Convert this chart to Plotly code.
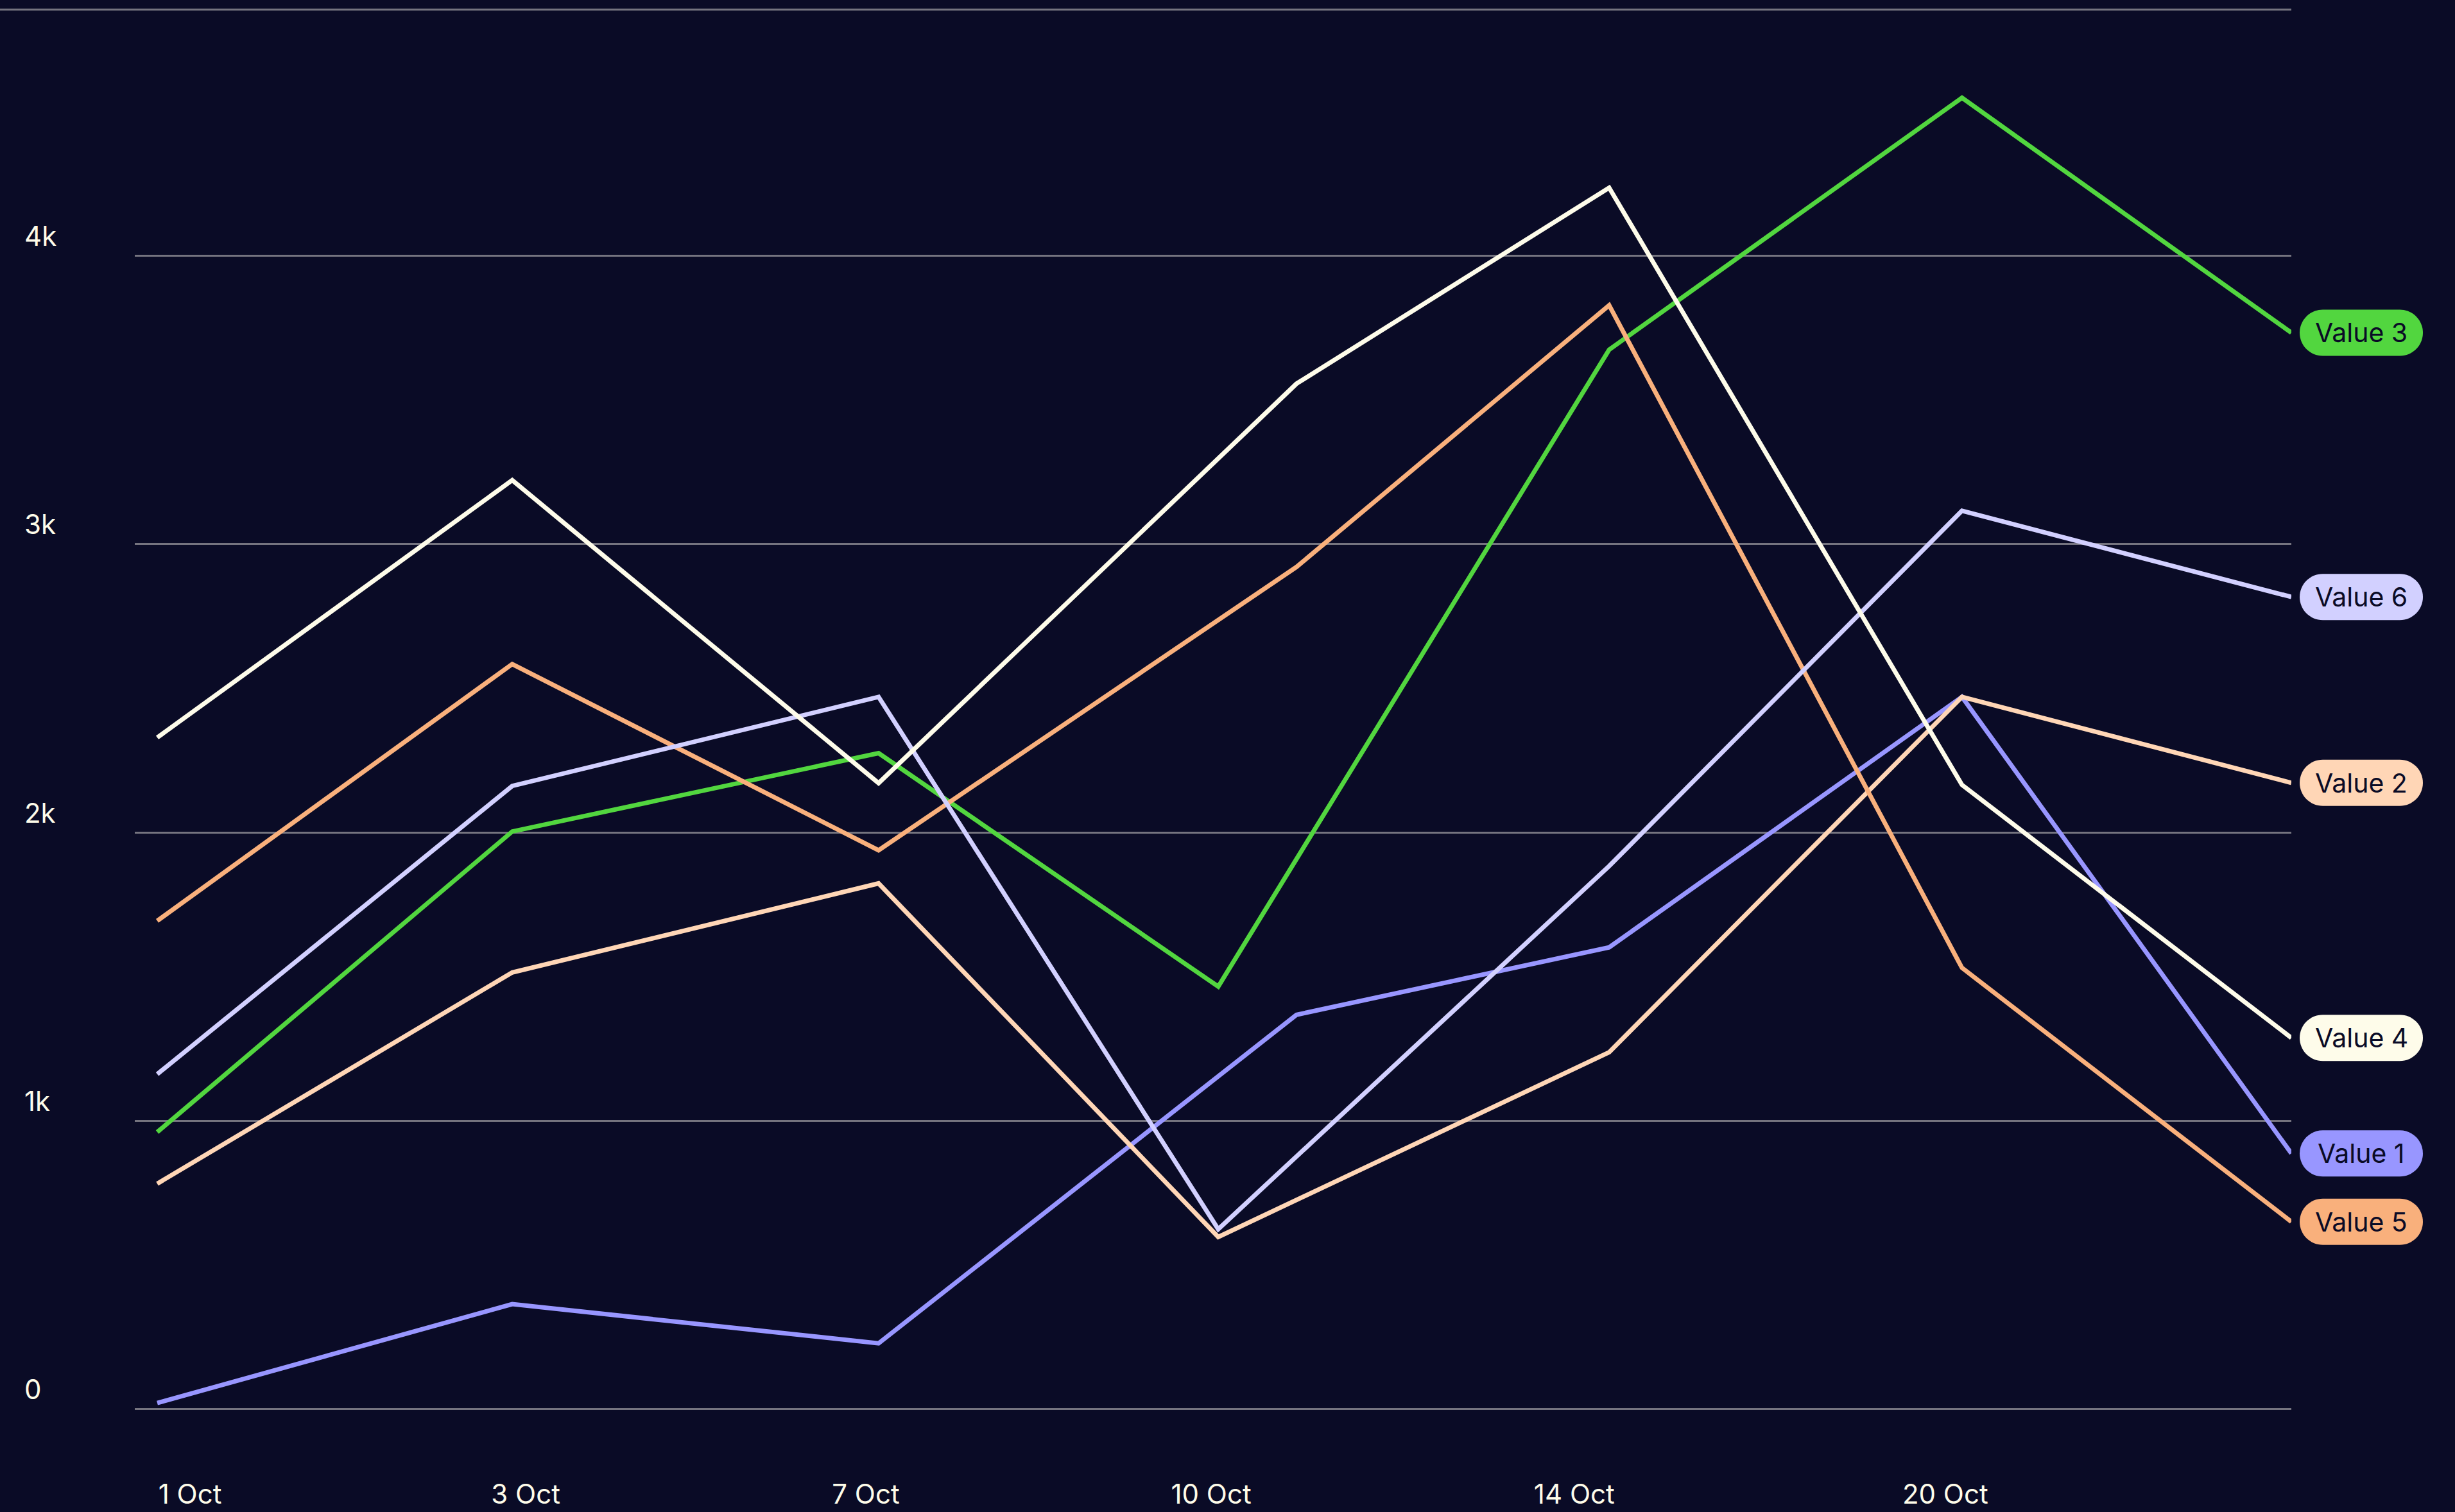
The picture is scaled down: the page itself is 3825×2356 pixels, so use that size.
import plotly.graph_objects as go

# ---------------- data ----------------
tick_labels = ["1 Oct", "3 Oct", "7 Oct", "10 Oct", "14 Oct", "20 Oct"]
tick_pos = [0.092, 1.036, 1.992, 2.963, 3.984, 5.027]

x_common = [0, 0.998, 2.028, 2.983, 4.082, 5.074, 6.0]
x_late = [0, 0.998, 2.028, 3.203, 4.082, 5.074, 6.0]

value_1 = [20, 363, 227, 1367, 1601, 2470, 886]
value_2 = [781, 1514, 1823, 596, 1237, 2470, 2172]
value_3 = [960, 2003, 2275, 1465, 3675, 4549, 3734]
value_4 = [2329, 3222, 2171, 3557, 4237, 2165, 1287]
value_5 = [1693, 2584, 1938, 2921, 3829, 1530, 649]
value_6 = [1161, 2161, 2470, 623, 1883, 3116, 2817]

y_ticks = [0, 1000, 2000, 3000, 4000]
y_tick_text = ["0", "1k", "2k", "3k", "4k"]

# ---------------- style ----------------
BG = "#0A0B26"
TXT = "#FEFCEA"
GRID = "#75747F"
FONT = "Inter"

series = [
    ("Value 1", x_late, value_1, "#9896FF"),
    ("Value 2", x_common, value_2, "#FFD6B6"),
    ("Value 3", x_common, value_3, "#52D63F"),
    ("Value 5", x_late, value_5, "#F9B07C"),
    ("Value 6", x_common, value_6, "#D2D0FF"),
    ("Value 4", x_late, value_4, "#FEFCEA"),
]

W, H = 3825, 2356
ML, MR, MT, MB = 210, 255, 15, 116
PW = W - ML - MR

fig = go.Figure()
for name, xs, ys, col in series:
    fig.add_trace(go.Scatter(x=xs, y=ys, mode="lines", name=name,
                             line=dict(color=col, width=7), showlegend=False,
                             hoverinfo="skip"))

shapes = []
annotations = []

# top border line
shapes.append(dict(type="line", xref="paper", yref="paper",
                   x0=-ML / PW, x1=1, y0=1, y1=1,
                   line=dict(color=GRID, width=3), layer="below"))

# end-of-line pills
k = 0.5523
r = 36
left = 13
width = 192
cl = left + r
cr = left + width - r
right = left + width
pill_path = (f"M {cl},{-r} L {cr},{-r} "
             f"C {cr + k * r},{-r} {right},{-k * r} {right},0 "
             f"C {right},{k * r} {cr + k * r},{r} {cr},{r} "
             f"L {cl},{r} "
             f"C {cl - k * r},{r} {left},{k * r} {left},0 "
             f"C {left},{-k * r} {cl - k * r},{-r} {cl},{-r} Z")

for name, xs, ys, col in series:
    shapes.append(dict(type="path", xref="paper", yref="y",
                       xsizemode="pixel", ysizemode="pixel",
                       xanchor=1, yanchor=ys[-1], path=pill_path,
                       fillcolor=col, line=dict(width=0), layer="above"))
    annotations.append(dict(xref="paper", yref="y", x=1, y=ys[-1],
                            xanchor="center", yanchor="middle",
                            xshift=left + width / 2, yshift=0,
                            text=name, showarrow=False,
                            font=dict(family=FONT, size=41, color=BG)))

# y tick labels (left aligned, sitting above grid lines)
for v, t in zip(y_ticks, y_tick_text):
    annotations.append(dict(xref="paper", yref="y", x=-(ML - 36) / PW, y=v,
                            xanchor="left", yanchor="middle", yshift=31,
                            text=t, showarrow=False,
                            font=dict(family=FONT, size=42, color=TXT)))

fig.update_layout(
    width=W, height=H,
    margin=dict(l=ML, r=MR, t=MT, b=MB, pad=0, autoexpand=False),
    paper_bgcolor=BG, plot_bgcolor=BG,
    font=dict(family=FONT, size=42, color=TXT),
    shapes=shapes, annotations=annotations,
    xaxis=dict(range=[-0.0632, 6.0], showgrid=False, zeroline=False,
               showline=False, tickmode="array", tickvals=tick_pos,
               ticktext=tick_labels, ticks="", ticklabelstandoff=60,
               automargin=False,
               tickfont=dict(family=FONT, size=42, color=TXT)),
    yaxis=dict(range=[-100, 4855], showgrid=True, gridcolor=GRID,
               gridwidth=3, zeroline=False, showline=False, automargin=False,
               tickmode="array", tickvals=y_ticks, showticklabels=False),
)

fig.write_html(
    "out.html",
    config={"displayModeBar": False},
    post_script=("document.body.style.margin='0';"
                 "document.body.style.background='#0A0B26';"),
)
